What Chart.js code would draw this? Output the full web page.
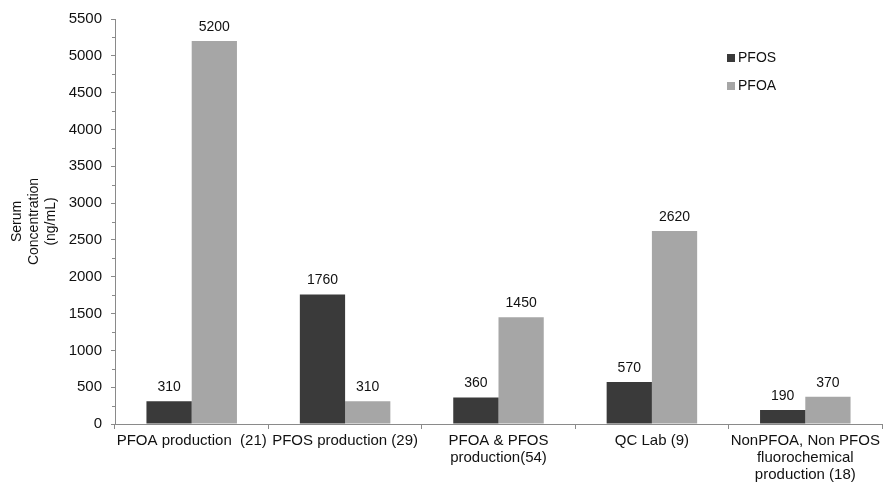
<!DOCTYPE html>
<html>
<head>
<meta charset="utf-8">
<script src="https://cdn.jsdelivr.net/npm/chart.js@4/dist/chart.umd.min.js"></script>
<style>
  html, body { margin: 0; padding: 0; background: #fff; }
  #wrap { width: 889px; height: 484px; }
</style>
</head>
<body>
<div id="wrap"><canvas id="graph" width="889" height="484"></canvas></div>
<script>
const groups = [
  'PFOA production  (21)',
  'PFOS production (29)',
  ['PFOA & PFOS', 'production(54)'],
  'QC Lab (9)',
  ['NonPFOA, Non PFOS', 'fluorochemical', 'production (18)']
];
const pfos = [310, 1760, 360, 570, 190];
const pfoa = [5200, 310, 1450, 2620, 370];
const yTitle = ['Serum', 'Concentration', '(ng/mL)'];

Chart.defaults.font.family = '"Liberation Sans", Arial, sans-serif';
Chart.defaults.font.size = 14;
Chart.defaults.color = '#111';

// value labels, minor y ticks and the legend
const extras = {
  id: 'extras',
  afterDatasetsDraw(chart) {
    const ctx = chart.ctx;
    ctx.save();
    ctx.fillStyle = '#111';
    ctx.font = '14px "Liberation Sans", Arial, sans-serif';
    ctx.textAlign = 'center';
    ctx.textBaseline = 'bottom';
    chart.data.datasets.forEach((ds, i) => {
      chart.getDatasetMeta(i).data.forEach((bar, j) => {
        ctx.fillText(ds.data[j], bar.x, bar.y - 7);
      });
    });

    const y = chart.scales.y;
    const x0 = chart.chartArea.left;
    ctx.strokeStyle = '#8a8a8a';
    ctx.lineWidth = 1;
    ctx.beginPath();
    for (let v = 250; v < 5500; v += 500) {
      const py = Math.round(y.getPixelForValue(v)) + 0.5;
      ctx.moveTo(x0 - 3, py);
      ctx.lineTo(x0, py);
    }
    ctx.stroke();

    // legend
    ctx.textAlign = 'left';
    ctx.textBaseline = 'middle';
    chart.data.datasets.forEach((ds, i) => {
      const ly = 58 + i * 28;
      ctx.fillStyle = ds.backgroundColor;
      ctx.fillRect(727, ly - 4, 8, 8);
      ctx.fillStyle = '#111';
      ctx.fillText(ds.label, 738, ly);
    });
    ctx.restore();
  }
};

new Chart(document.getElementById('graph').getContext('2d'), {
  type: 'bar',
  data: {
    labels: groups,
    datasets: [
      { label: 'PFOS', data: pfos, backgroundColor: '#3a3a3a' },
      { label: 'PFOA', data: pfoa, backgroundColor: '#a6a6a6' }
    ]
  },
  options: {
    responsive: false,
    animation: false,
    layout: { padding: { left: 0, right: 7, top: 19, bottom: 0 } },
    datasets: { bar: { categoryPercentage: 0.59, barPercentage: 1.0 } },
    plugins: {
      legend: { display: false },
      tooltip: { enabled: false }
    },
    scales: {
      x: {
        afterFit(scale) { scale.height = 60; },
        grid: { drawOnChartArea: false, tickLength: 5, color: '#8a8a8a', offset: true },
        border: { color: '#8a8a8a' },
        ticks: {
          autoSkip: false, maxRotation: 0, minRotation: 0, padding: 3, color: '#111',
          font: { size: 15, lineHeight: 1.14 }
        }
      },
      y: {
        min: 0,
        max: 5500,
        afterFit(scale) { scale.width = 115; },
        grid: { drawOnChartArea: false, tickLength: 4, color: '#8a8a8a' },
        border: { color: '#8a8a8a' },
        title: {
          display: true,
          text: yTitle,
          color: '#111',
          font: { size: 14, lineHeight: 1.2 },
          padding: { top: 9, bottom: 0 }
        },
        ticks: {
          stepSize: 500, padding: 9, color: '#111',
          font: { size: 15 },
          callback: v => String(v)
        }
      }
    }
  },
  plugins: [extras]
});
</script>
</body>
</html>
